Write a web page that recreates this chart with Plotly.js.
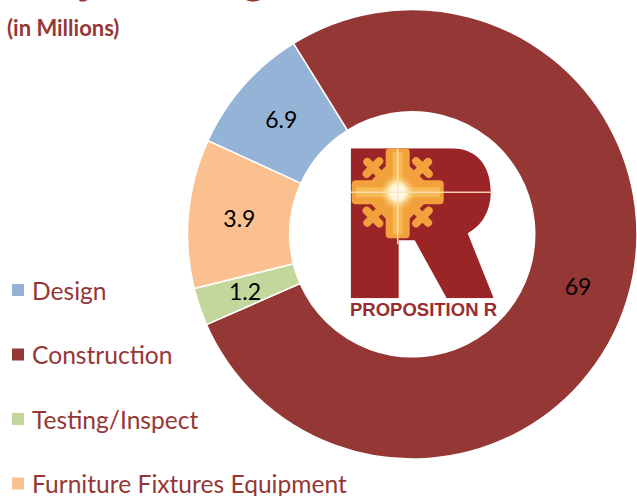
<!DOCTYPE html>
<html>
<head>
<meta charset="utf-8">
<script src="https://cdn.plot.ly/plotly-3.0.1.min.js"></script>
<style>html,body{margin:0;padding:0;background:#fff;}#chart{width:637px;height:496px;}</style>
</head>
<body>
<div id="chart"></div>
<script>
// ---- data ----
var categories = ["Design", "Construction", "Testing/Inspect", "Furniture Fixtures Equipment"];
var shownValues = ["6.9", "69", "1.2", "3.9"];            // labels printed on the slices (millions)
var sliceShares = [9.3, 77.2, 2.7, 10.7];                 // share of the ring each slice occupies in the picture (%)
var sliceColors = ["#95B3D7", "#953735", "#C3D69B", "#FAC090"];
var titleText = "Project Budget";
var subtitleText = "(in Millions)";
var logoText = "PROPOSITION R";

var W = 637, H = 496;
function px(x) { return x / W; }
function py(y) { return 1 - y / H; }

var ROT = -65.4, HOLE = 0.545;
var dom = {x: [px(187.5), 1], y: [py(459.3), py(9.3)]};

// slices too thin for the library's inside text get their label as an annotation
var thinLimit = 5; // percent
var sliceText = shownValues.map(function(t, i) { return sliceShares[i] < thinLimit ? "" : t; });

var trace = {
  type: "pie",
  labels: categories,
  values: sliceShares,
  text: sliceText,
  textinfo: "text",
  textposition: "inside",
  insidetextorientation: "horizontal",
  textfont: {family: "Lato, 'Open Sans', sans-serif", size: 23, color: "#000"},
  marker: {colors: sliceColors, line: {color: "#ffffff", width: 1.5}},
  hole: HOLE,
  sort: false,
  direction: "clockwise",
  rotation: ROT,
  domain: dom,
  hoverinfo: "none",
  showlegend: false
};

// logo drawn as inline SVG
var logoSvg =
 "<svg xmlns='http://www.w3.org/2000/svg' viewBox='0 0 143 150' width='286' height='300'>" +
 "<defs><radialGradient id='g' cx='0.5' cy='0.5' r='0.5'>" +
 "<stop offset='0' stop-color='#ffffff'/><stop offset='0.45' stop-color='#fff3cf'/>" +
 "<stop offset='1' stop-color='#f8c560' stop-opacity='0'/></radialGradient></defs>" +
 "<path d='M0,0 L100,0 C127,0 140,18 140,44 C140,64 130,78 117,85 L143,150 L96,150 L64,92 L48,92 L48,150 L0,150 Z' fill='#9b2427'/>" +
 "<g transform='translate(47,44)'>" +
 "<rect x='-12' y='-44' width='24' height='90' rx='4' fill='#f2a13c'/>" +
 "<rect x='-46' y='-12' width='92' height='24' rx='4' fill='#f2a13c'/>" +
 "<rect x='-5' y='-40' width='10' height='82' fill='#f6b955'/>" +
 "<rect x='-42' y='-5' width='84' height='10' fill='#f6b955'/>" +
 ["45","135","225","315"].map(function(a){
   return "<g transform='rotate(" + a + ")' stroke='#f2a13c' stroke-width='8' stroke-linecap='round'>" +
          "<line x1='0' y1='-14' x2='0' y2='-43'/>" +
          "<line x1='-10' y1='-23' x2='10' y2='-23'/>" +
          "<line x1='-9' y1='-35' x2='9' y2='-35'/></g>";
 }).join("") +
 "<circle cx='0' cy='0' r='18' fill='url(#g)'/>" +
 "</g>" +
 "<line x1='0' y1='44' x2='143' y2='44' stroke='#fbe3b8' stroke-width='1.6' opacity='0.9'/>" +
 "<line x1='47' y1='0' x2='47' y2='96' stroke='#fbe3b8' stroke-width='1.6' opacity='0.9'/>" +
 "</svg>";

var annotations = [
  {text: "<b>" + titleText + "</b>", xref: "paper", yref: "paper", x: px(11), y: py(5),
   xanchor: "left", yanchor: "bottom", showarrow: false,
   font: {family: "Lato, sans-serif", size: 44, color: "#953735"}},
  {text: "<b>" + subtitleText + "</b>", xref: "paper", yref: "paper", x: px(5), y: py(27),
   xanchor: "left", yanchor: "middle", showarrow: false,
   font: {family: "Lato, sans-serif", size: 22, color: "#953735"}},
  {text: "<b>" + logoText + "</b>", xref: "paper", yref: "paper", x: px(423.5), y: py(309),
   xanchor: "center", yanchor: "middle", showarrow: false,
   font: {family: "Liberation Sans, Arial, sans-serif", size: 18.5, color: "#9b2b2e"}}
];

// labels for thin slices, placed at the slice's middle angle on the ring
var cx = (dom.x[0] + dom.x[1]) / 2 * W, cy = (1 - (dom.y[0] + dom.y[1]) / 2) * H;
var R = Math.min((dom.x[1] - dom.x[0]) * W, (dom.y[1] - dom.y[0]) * H) / 2;
var total = sliceShares.reduce(function(a, b) { return a + b; }, 0);
var cum = 0;
sliceShares.forEach(function(v, i) {
  var mid = (ROT + (cum + v / 2) / total * 360) * Math.PI / 180;
  cum += v;
  if (v >= thinLimit) return;
  var rr = R * (1 + HOLE) / 2 + 3;
  annotations.push({text: shownValues[i], xref: "paper", yref: "paper",
    x: px(cx + rr * Math.sin(mid)), y: py(cy - rr * Math.cos(mid)),
    xanchor: "center", yanchor: "middle", showarrow: false,
    font: {family: "Lato, 'Open Sans', sans-serif", size: 23, color: "#000"}});
});

// legend rows (drawn to match the spacing of the reference)
var shapes = [];
var legendTop = 290, legendStep = 64.5;
categories.forEach(function(c, i) {
  var yc = legendTop + i * legendStep;
  shapes.push({type: "rect", xref: "paper", yref: "paper",
    x0: px(12), x1: px(24), y0: py(yc + 6), y1: py(yc - 6),
    fillcolor: sliceColors[i], line: {width: 0}});
  annotations.push({text: c, xref: "paper", yref: "paper", x: px(30), y: py(yc),
    xanchor: "left", yanchor: "middle", showarrow: false,
    font: {family: "Lato, sans-serif", size: 24.6, color: "#953735"}});
});

var layout = {
  width: W, height: H,
  margin: {l: 0, r: 0, t: 0, b: 0},
  paper_bgcolor: "#ffffff",
  plot_bgcolor: "#ffffff",
  showlegend: false,
  annotations: annotations,
  shapes: shapes,
  images: [{
    source: "data:image/svg+xml;charset=utf-8," + encodeURIComponent(logoSvg),
    xref: "paper", yref: "paper", x: px(350.7), y: py(148.3),
    sizex: 143 / W, sizey: 150 / H, sizing: "stretch",
    xanchor: "left", yanchor: "top", layer: "above"
  }]
};

Plotly.newPlot("chart", [trace], layout, {staticPlot: true, displayModeBar: false});
</script>
</body>
</html>
